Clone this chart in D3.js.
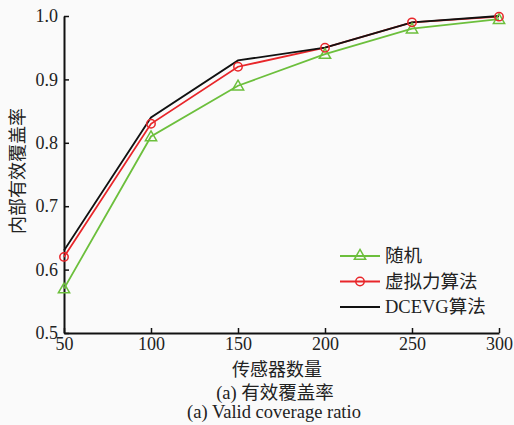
<!DOCTYPE html>
<meta charset="utf-8">
<script src="https://d3js.org/d3.v7.min.js"></script>
<style>
  body { margin: 0; background: #fafafa; }
  text { font-family: "Liberation Serif", "Noto Sans CJK SC", serif; fill: #222; }
</style>
<div id="chart"></div>
<script>
  // data
  const sensors = [50, 100, 150, 200, 250, 300];
  const randomVals = [0.57, 0.81, 0.89, 0.94, 0.98, 0.995];
  const forceVals = [0.62, 0.83, 0.92, 0.95, 0.99, 0.999];
  const dcevgVals = [0.63, 0.84, 0.93, 0.95, 0.99, 1.0];
  const yTicks = [0.5, 0.6, 0.7, 0.8, 0.9, 1.0];
  const seriesNames = ["随机", "虚拟力算法", "DCEVG算法"];

  const W = 514, H = 425;
  const margin = {top: 16, right: 15, bottom: 92, left: 64};
  const width = W - margin.left - margin.right,
        height = H - margin.top - margin.bottom;

  const svg = d3.select("#chart").append("svg")
    .attr("width", W).attr("height", H);
  svg.append("rect").attr("width", W).attr("height", H).attr("fill", "#fafafa");

  const g = svg.append("g").attr("transform", `translate(${margin.left},${margin.top})`);

  const x = d3.scaleLinear().domain([50, 300]).range([0, width]);
  const y = d3.scaleLinear().domain([0.5, 1.0]).range([height, 0]);

  // axes, ticks pointing inward
  const xAxis = g.append("g").attr("transform", `translate(0,${height})`)
    .call(d3.axisBottom(x).tickValues(sensors).tickSizeInner(-5).tickSizeOuter(0).tickPadding(4));
  const yAxis = g.append("g")
    .call(d3.axisLeft(y).tickValues(yTicks).tickFormat(d3.format(".1f")).tickSizeInner(-5).tickSizeOuter(0).tickPadding(6));
  [xAxis, yAxis].forEach(a => {
    a.select(".domain").attr("stroke", "#111").attr("stroke-width", 2);
    a.selectAll(".tick line").attr("stroke", "#111").attr("stroke-width", 1.5);
    a.selectAll("text").style("font-size", "18px").style("font-family", "Liberation Serif").attr("fill", "#222");
  });

  const line = d3.line().x((d, i) => x(sensors[i])).y(d => y(d));

  const series = [
    {vals: randomVals, color: "#6cbf3c", marker: "tri"},
    {vals: forceVals, color: "#e8262a", marker: "circ"},
    {vals: dcevgVals, color: "#111", marker: "none"}
  ];

  const tri = d3.symbol().type(d3.symbolTriangle).size(55);

  series.forEach(s => {
    g.append("path").datum(s.vals).attr("d", line)
      .attr("fill", "none").attr("stroke", s.color).attr("stroke-width", 1.8);
  });
  series.forEach(s => {
    if (s.marker === "tri") {
      g.selectAll(null).data(s.vals).join("path")
        .attr("d", tri)
        .attr("transform", (d, i) => `translate(${x(sensors[i])},${y(d) + 1})`)
        .attr("fill", "none").attr("stroke", s.color).attr("stroke-width", 1.5);
    } else if (s.marker === "circ") {
      g.selectAll(null).data(s.vals).join("circle")
        .attr("cx", (d, i) => x(sensors[i])).attr("cy", d => y(d)).attr("r", 4.2)
        .attr("fill", "none").attr("stroke", s.color).attr("stroke-width", 1.5);
    }
  });

  // legend
  const leg = svg.append("g");
  series.forEach((s, i) => {
    const ly = 256 + i * 25.5;
    leg.append("line").attr("x1", 340).attr("x2", 380).attr("y1", ly).attr("y2", ly)
      .attr("stroke", s.color).attr("stroke-width", 1.8);
    if (s.marker === "tri") {
      leg.append("path").attr("d", tri).attr("transform", `translate(360,${ly})`)
        .attr("fill", "none").attr("stroke", s.color).attr("stroke-width", 1.5);
    } else if (s.marker === "circ") {
      leg.append("circle").attr("cx", 360).attr("cy", ly).attr("r", 4.2)
        .attr("fill", "none").attr("stroke", s.color).attr("stroke-width", 1.5);
    }
    leg.append("text").attr("x", 385).attr("y", ly).attr("dy", "0.35em")
      .style("font-size", "18.5px").text(seriesNames[i]);
  });

  // titles
  svg.append("text").attr("x", 277).attr("y", 370).attr("dy", "0.35em")
    .attr("text-anchor", "middle").style("font-size", "18px").text("传感器数量");
  svg.append("text").attr("transform", "translate(18,171) rotate(-90)").attr("dy", "0.35em")
    .attr("text-anchor", "middle").style("font-size", "18px").text("内部有效覆盖率");
  svg.append("text").attr("x", 275).attr("y", 393).attr("dy", "0.35em")
    .attr("text-anchor", "middle").style("font-size", "18.5px").text("(a) 有效覆盖率");
  svg.append("text").attr("x", 274).attr("y", 412).attr("dy", "0.35em")
    .attr("text-anchor", "middle").style("font-size", "18.5px").text("(a) Valid coverage ratio");
</script>
